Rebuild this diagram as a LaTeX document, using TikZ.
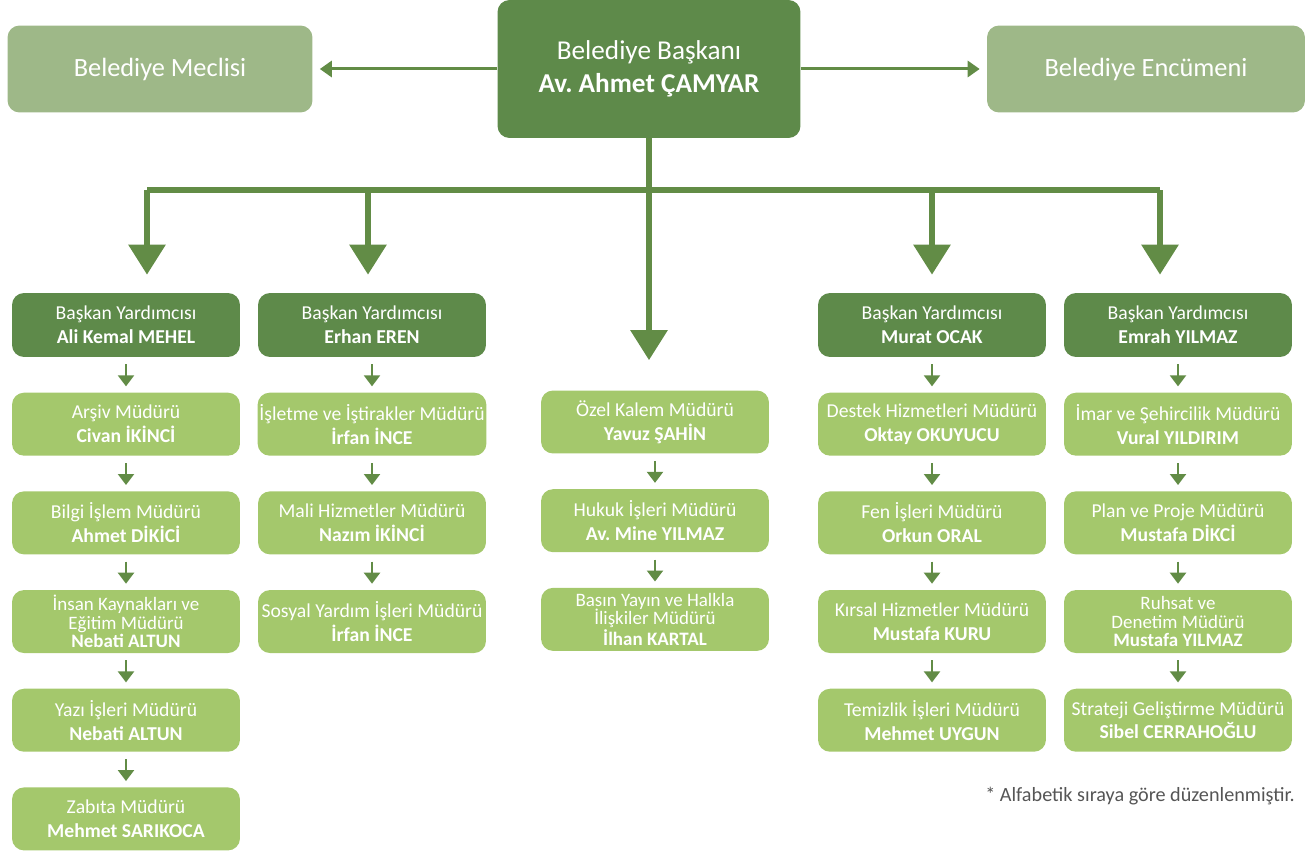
\documentclass[tikz,border=0pt]{standalone}
\usepackage{fontspec}
\setmainfont{Carlito}
\usepackage{tikz}
\usetikzlibrary{positioning, arrows.meta}
\definecolor{darkGreen}{HTML}{5E8A4A}
\definecolor{greyGreen}{HTML}{9EB888}
\definecolor{lightGreen}{HTML}{A4C86C}
\definecolor{arrowGreen}{HTML}{628C46}
\definecolor{noteGrey}{HTML}{555555}
\tikzstyle{baseBox} = [shape=rectangle, rounded corners=0.24cm, text=white,
	align=center, inner sep=1pt]
\tikzstyle{sideBox} = [baseBox, fill=greyGreen, minimum width=6.1cm, minimum height=1.74cm,
	font=\fontsize{15}{18}\selectfont]
\tikzstyle{headBox} = [baseBox, fill=darkGreen, minimum width=6.06cm, minimum height=2.76cm,
	font=\fontsize{15.5}{18.5}\selectfont]
\tikzstyle{vpBox} = [baseBox, fill=darkGreen, minimum width=4.56cm, minimum height=1.28cm,
	font=\fontsize{11.2}{13.6}\selectfont]
\tikzstyle{unitBox} = [baseBox, fill=lightGreen, minimum width=4.56cm, minimum height=1.26cm,
	font=\fontsize{11.2}{13.6}\selectfont]
\tikzstyle{tightBox} = [unitBox, font=\fontsize{10.8}{10.6}\selectfont]
\tikzstyle{thinArrow} = [draw=arrowGreen, line width=0.06cm,
	-{Triangle[width=0.32cm,length=0.24cm]}]
\tikzstyle{bigLine} = [draw=arrowGreen, line width=0.12cm]
\tikzstyle{bigArrow} = [bigLine, -{Triangle[width=0.72cm,length=0.6cm]}]
\tikzstyle{smallArrow} = [draw=arrowGreen, line width=0.045cm, shorten <=0.14cm, shorten >=0.12cm,
	-{Triangle[width=0.32cm,length=0.22cm]}]

\begin{document}
\begin{tikzpicture}[x=0.02cm, y=-0.02cm, node distance=0.7cm]
	\useasboundingbox (0,0) rectangle (1315,855);

	% top row
	\node (Baskan) at (649,69) [headBox] {Belediye Başkanı\\\textbf{Av.\ Ahmet ÇAMYAR}};
	\node (Meclis) at (160,69) [sideBox] {Belediye Meclisi};
	\node (Encumen) at (1146,69) [sideBox, minimum width=6.36cm] {Belediye Encümeni};
	\draw [thinArrow, shorten >=.14cm] (Baskan) -- (Meclis);
	\draw [thinArrow, shorten >=.14cm] (Baskan) -- (Encumen);

	% deputy mayors
	\node (VP1) at (126,325) [vpBox] {Başkan Yardımcısı\\\textbf{Ali Kemal MEHEL}};
	\node (VP2) at (372,325) [vpBox] {Başkan Yardımcısı\\\textbf{Erhan EREN}};
	\node (VP3) at (932,325) [vpBox] {Başkan Yardımcısı\\\textbf{Murat OCAK}};
	\node (VP4) at (1178,325) [vpBox] {Başkan Yardımcısı\\\textbf{Emrah YILMAZ}};

	% trunk and branches
	\coordinate (b1) at (147,190);
	\coordinate (b2) at (368,190);
	\coordinate (b3) at (932,190);
	\coordinate (b4) at (1160,190);
	\draw [bigLine] (b1) -- (b4);
	\foreach \b in {b1,b2,b3,b4}
		\draw [bigArrow, shorten >=.36cm] (\b) -- (\b |- VP1.north);

	% column 1
	\node (Arsiv) [unitBox, below= of VP1] {Arşiv Müdürü\\\textbf{Civan İKİNCİ}};
	\node (Bilgi) [unitBox, below= of Arsiv] {Bilgi İşlem Müdürü\\\textbf{Ahmet DİKİCİ}};
	\node (Insan) [tightBox, below= of Bilgi] {İnsan Kaynakları ve\\Eğitim Müdürü\\\textbf{Nebati ALTUN}};
	\node (Yazi) [unitBox, below= of Insan] {Yazı İşleri Müdürü\\\textbf{Nebati ALTUN}};
	\node (Zabita) [unitBox, below= of Yazi] {Zabıta Müdürü\\\textbf{Mehmet SARIKOCA}};
	\draw [smallArrow] (VP1) -- (Arsiv);
	\draw [smallArrow] (Arsiv) -- (Bilgi);
	\draw [smallArrow] (Bilgi) -- (Insan);
	\draw [smallArrow] (Insan) -- (Yazi);
	\draw [smallArrow] (Yazi) -- (Zabita);

	% column 2
	\node (Isletme) [unitBox, below= of VP2] {İşletme ve İştirakler Müdürü\\\textbf{İrfan İNCE}};
	\node (Mali) [unitBox, below= of Isletme] {Mali Hizmetler Müdürü\\\textbf{Nazım İKİNCİ}};
	\node (Sosyal) [unitBox, below= of Mali] {Sosyal Yardım İşleri Müdürü\\\textbf{İrfan İNCE}};
	\draw [smallArrow] (VP2) -- (Isletme);
	\draw [smallArrow] (Isletme) -- (Mali);
	\draw [smallArrow] (Mali) -- (Sosyal);

	% column 3, straight from the mayor
	\node (Ozel) at (655,422) [unitBox] {Özel Kalem Müdürü\\\textbf{Yavuz ŞAHİN}};
	\node (Hukuk) [unitBox, below= of Ozel] {Hukuk İşleri Müdürü\\\textbf{Av.\ Mine YILMAZ}};
	\node (Basin) [tightBox, below= of Hukuk] {Basın Yayın ve Halkla\\İlişkiler Müdürü\\\textbf{İlhan KARTAL}};
	\draw [bigArrow, shorten >=.6cm] (Baskan) -- (Baskan |- Ozel.north);
	\draw [smallArrow] (Ozel) -- (Hukuk);
	\draw [smallArrow] (Hukuk) -- (Basin);

	% column 4
	\node (Destek) [unitBox, below= of VP3] {Destek Hizmetleri Müdürü\\\textbf{Oktay OKUYUCU}};
	\node (Fen) [unitBox, below= of Destek] {Fen İşleri Müdürü\\\textbf{Orkun ORAL}};
	\node (Kirsal) [unitBox, below= of Fen] {Kırsal Hizmetler Müdürü\\\textbf{Mustafa KURU}};
	\node (Temizlik) [unitBox, below= of Kirsal] {Temizlik İşleri Müdürü\\\textbf{Mehmet UYGUN}};
	\draw [smallArrow] (VP3) -- (Destek);
	\draw [smallArrow] (Destek) -- (Fen);
	\draw [smallArrow] (Fen) -- (Kirsal);
	\draw [smallArrow] (Kirsal) -- (Temizlik);

	% column 5
	\node (Imar) [unitBox, below= of VP4] {İmar ve Şehircilik Müdürü\\\textbf{Vural YILDIRIM}};
	\node (Plan) [unitBox, below= of Imar] {Plan ve Proje Müdürü\\\textbf{Mustafa DİKCİ}};
	\node (Ruhsat) [tightBox, below= of Plan] {Ruhsat ve\\Denetim Müdürü\\\textbf{Mustafa YILMAZ}};
	\node (Strateji) [unitBox, below= of Ruhsat] {Strateji Geliştirme Müdürü\\\textbf{Sibel CERRAHOĞLU}};
	\draw [smallArrow] (VP4) -- (Imar);
	\draw [smallArrow] (Imar) -- (Plan);
	\draw [smallArrow] (Plan) -- (Ruhsat);
	\draw [smallArrow] (Ruhsat) -- (Strateji);

	\node (Note) at (1140,796) [text=noteGrey, font=\fontsize{11.5}{13}\selectfont] {* Alfabetik sıraya göre düzenlenmiştir.};
\end{tikzpicture}
\end{document}
